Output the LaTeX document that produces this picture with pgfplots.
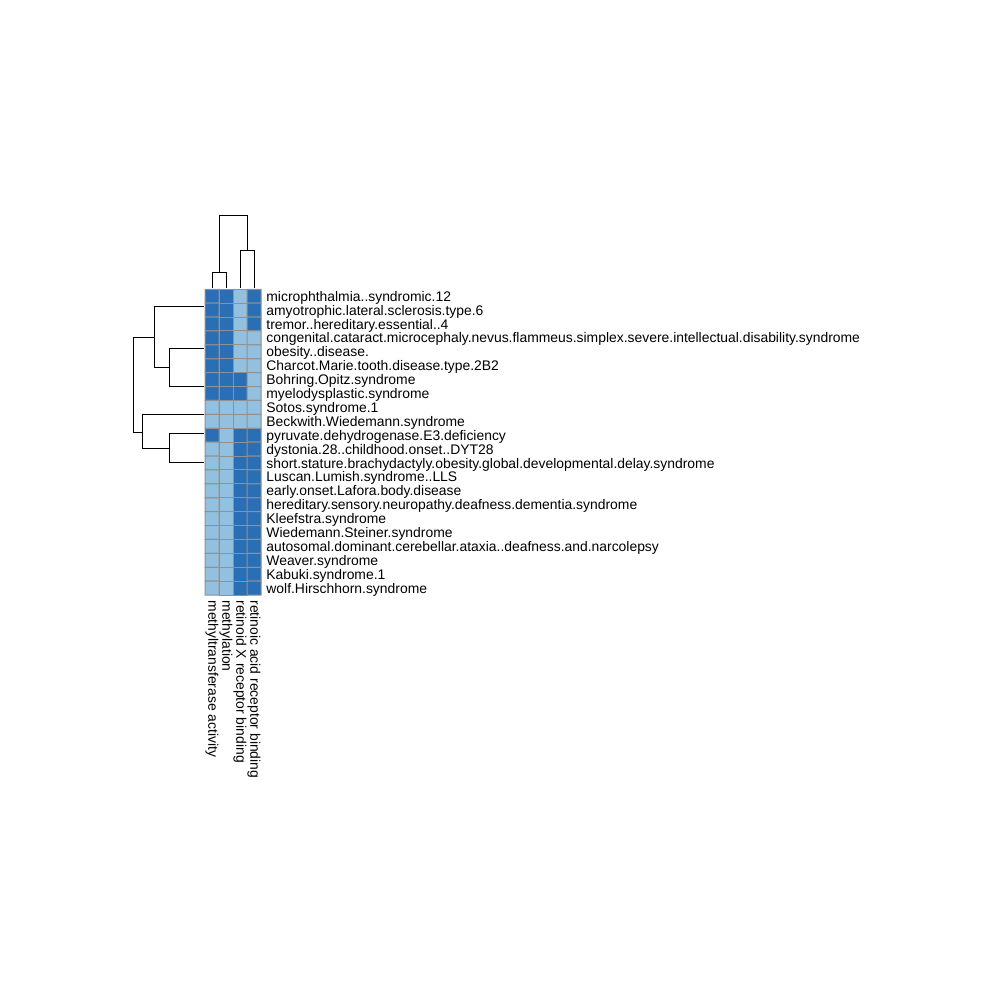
\documentclass[border=0pt]{standalone}
\usepackage{pgfplots}
\pgfplotsset{compat=1.18}
\usepackage{pgfplotstable}
\usepackage{fontspec}
\setmainfont{Liberation Sans}
\definecolor{hdark}{RGB}{42,110,181}
\definecolor{hlight}{RGB}{147,192,222}
\definecolor{hgrid}{RGB}{145,145,145}
\pgfplotstableread{
x y c
1 1 1
2 1 1
3 1 0
4 1 1
1 2 1
2 2 1
3 2 0
4 2 1
1 3 1
2 3 1
3 3 0
4 3 1
1 4 1
2 4 1
3 4 0
4 4 0
1 5 1
2 5 1
3 5 0
4 5 0
1 6 1
2 6 1
3 6 0
4 6 0
1 7 1
2 7 1
3 7 1
4 7 0
1 8 1
2 8 1
3 8 1
4 8 0
1 9 0
2 9 0
3 9 0
4 9 0
1 10 0
2 10 0
3 10 0
4 10 0
1 11 1
2 11 0
3 11 1
4 11 1
1 12 0
2 12 0
3 12 1
4 12 1
1 13 0
2 13 0
3 13 1
4 13 1
1 14 0
2 14 0
3 14 1
4 14 1
1 15 0
2 15 0
3 15 1
4 15 1
1 16 0
2 16 0
3 16 1
4 16 1
1 17 0
2 17 0
3 17 1
4 17 1
1 18 0
2 18 0
3 18 1
4 18 1
1 19 0
2 19 0
3 19 1
4 19 1
1 20 0
2 20 0
3 20 1
4 20 1
1 21 0
2 21 0
3 21 1
4 21 1
1 22 0
2 22 0
3 22 1
4 22 1
}\heat
\begin{document}
\begin{tikzpicture}
% full canvas, 1 px = 0.5pt, y downward
\begin{axis}[name=canvas, at={(0,0)}, anchor=south west,
  width=500pt, height=500pt, scale only axis,
  xmin=0, xmax=1000, ymin=0, ymax=1000, y dir=reverse,
  hide axis, clip=false]
% row dendrogram
\addplot[black, line width=0.5pt] coordinates {(204,306.7) (154,306.7)};
\addplot[black, line width=0.5pt] coordinates {(204,348.6) (169,348.6) (169,386.6) (204,386.6)};
\addplot[black, line width=0.5pt] coordinates {(169,367.6) (154,367.6)};
\addplot[black, line width=0.5pt] coordinates {(154,306.7) (154,367.6)};
\addplot[black, line width=0.5pt] coordinates {(154,337.1) (133,337.1) (133,432.2) (142.7,432.2)};
\addplot[black, line width=0.5pt] coordinates {(204,414.4) (142.7,414.4) (142.7,448.6) (169,448.6)};
\addplot[black, line width=0.5pt] coordinates {(204,433.8) (169,433.8) (169,463.0) (204,463.0)};
% column dendrogram
\addplot[black, line width=0.5pt] coordinates {(212,288) (212,272.3) (226,272.3) (226,288)};
\addplot[black, line width=0.5pt] coordinates {(240,288) (240,251) (254,251) (254,288)};
\addplot[black, line width=0.5pt] coordinates {(219,272.3) (219,216) (247,216) (247,251)};
\end{axis}
% heatmap
\begin{axis}[at={(102.5pt,202.45pt)}, anchor=south west,
  width=28pt, height=152.9pt, scale only axis,
  xmin=0.5, xmax=4.5, ymin=0.5, ymax=22.5, y dir=reverse,
  axis line style={draw=none}, major tick length=0pt,
  colormap={hm}{color=(hlight) color=(hdark)},
  point meta min=0, point meta max=1,
  xtick={1,2,3,4},
  xticklabels={methyltransferase activity, methylation, retinoid X receptor binding, retinoic acid receptor binding},
  xticklabel pos=bottom,
  xticklabel style={rotate=-90, anchor=west, inner sep=0pt, font=\fontsize{6.95}{8}\selectfont},
  xticklabel shift=2.5pt,
  ytick={1,...,22},
  yticklabels={microphthalmia..syndromic.12, amyotrophic.lateral.sclerosis.type.6, tremor..hereditary.essential..4, congenital.cataract.microcephaly.nevus.flammeus.simplex.severe.intellectual.disability.syndrome, obesity..disease., Charcot.Marie.tooth.disease.type.2B2, Bohring.Opitz.syndrome, myelodysplastic.syndrome, Sotos.syndrome.1, Beckwith.Wiedemann.syndrome, pyruvate.dehydrogenase.E3.deficiency, dystonia.28..childhood.onset..DYT28, short.stature.brachydactyly.obesity.global.developmental.delay.syndrome, Luscan.Lumish.syndrome..LLS, early.onset.Lafora.body.disease, hereditary.sensory.neuropathy.deafness.dementia.syndrome, Kleefstra.syndrome, Wiedemann.Steiner.syndrome, autosomal.dominant.cerebellar.ataxia..deafness.and.narcolepsy, Weaver.syndrome, Kabuki.syndrome.1, wolf.Hirschhorn.syndrome},
  yticklabel pos=right,
  yticklabel style={anchor=base west, inner sep=0pt, yshift=-2.5pt, font=\fontsize{6.95}{8}\selectfont},
  yticklabel shift=2.5pt,
  clip=false]
\addplot[matrix plot*, mesh/cols=4, mesh/rows=22, point meta=explicit, draw=hgrid, line width=0.5pt]
  table[x=x, y=y, meta=c] {\heat};
\end{axis}
\pgfresetboundingbox
\path (canvas.south west) rectangle (canvas.north east);
\end{tikzpicture}
\end{document}
